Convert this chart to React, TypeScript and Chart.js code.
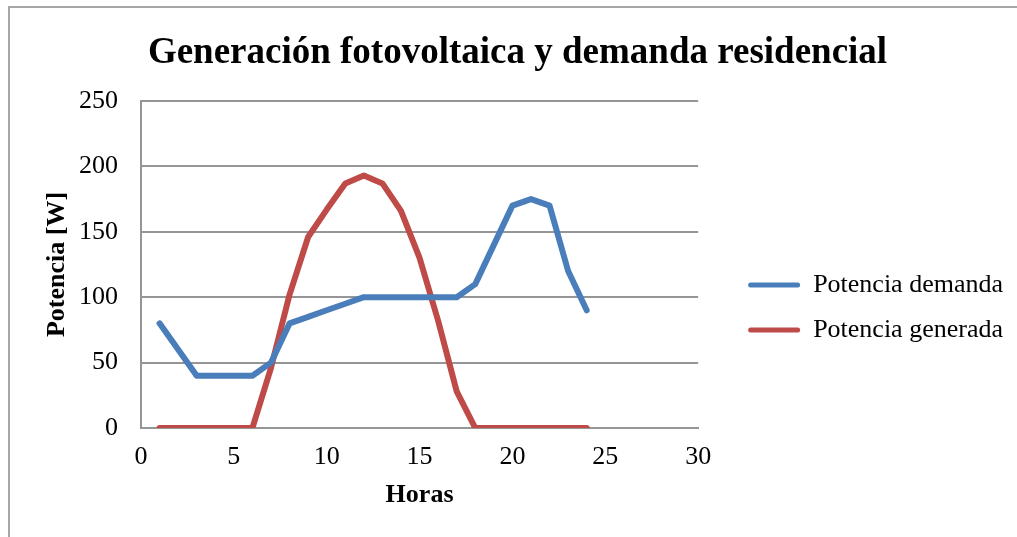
import React, { useEffect, useRef } from "react";
import { Chart, registerables } from "chart.js";

Chart.register(...registerables);

// ---- data ----
const hours = [1, 2, 3, 4, 5, 6, 7, 8, 9, 10, 11, 12, 13, 14, 15, 16, 17, 18, 19, 20, 21, 22, 23, 24];
const demand = [80, 60, 40, 40, 40, 40, 50, 80, 85, 90, 95, 100, 100, 100, 100, 100, 100, 110, 140, 170, 175, 170, 120, 90];
const generated = [0, 0, 0, 0, 0, 0, 46, 102, 146, 167, 187, 193, 187, 166, 130, 82, 28, 0, 0, 0, 0, 0, 0, 0];
const xTicks = [0, 5, 10, 15, 20, 25, 30];
const yTicks = [0, 50, 100, 150, 200, 250];
const seriesNames = ["Potencia demanda", "Potencia generada"];
const chartTitle = "Generación fotovoltaica y demanda residencial";
const xTitle = "Horas";
const yTitle = "Potencia [W]";

// ---- style ----
const W = 1035;
const H = 615;
const SERIF = "'Liberation Serif', 'Times New Roman', serif";
const BLUE = "#4a7ebb";
const RED = "#be4b48";
const GRID = "#969696";

export default function App() {
  const ref = useRef<HTMLCanvasElement | null>(null);

  useEffect(() => {
    if (!ref.current) return;
    const framePlugin = {
      id: "frame",
      beforeDraw(chart: any) {
        const c = chart.ctx;
        c.save();
        c.strokeStyle = "#a6a6a6";
        c.lineWidth = 2;
        c.strokeRect(9, 7, chart.width + 10, chart.height + 10);
        c.restore();
      },
    };

    const chart = new Chart(ref.current, {
      type: "line",
      data: {
        datasets: [
          {
            label: seriesNames[0],
            data: hours.map((h, i) => ({ x: h, y: demand[i] })),
            borderColor: BLUE,
            backgroundColor: BLUE,
            borderWidth: 6,
            pointRadius: 0,
            tension: 0,
            fill: false,
            borderJoinStyle: "round",
            borderCapStyle: "round",
          },
          {
            label: seriesNames[1],
            data: hours.map((h, i) => ({ x: h, y: generated[i] })),
            borderColor: RED,
            backgroundColor: RED,
            borderWidth: 6,
            pointRadius: 0,
            tension: 0,
            fill: false,
            borderJoinStyle: "round",
            borderCapStyle: "round",
          },
        ],
      },
      options: {
        responsive: false,
        animation: false,
        devicePixelRatio: 1,
        layout: { padding: { left: 22, right: 22, top: 0, bottom: 0 } },
        plugins: {
          tooltip: { enabled: false },
          title: {
            display: true,
            text: chartTitle,
            color: "#000",
            font: { family: SERIF, size: 37, weight: "bold" },
            padding: { top: 31, bottom: 25.6 },
          },
          legend: {
            position: "right",
            align: "center",
            maxWidth: 400,
            labels: {
              color: "#000",
              font: { family: SERIF, size: 26 },
              boxWidth: 52,
              boxHeight: 5,
              padding: 19,
              useBorderRadius: true,
              borderRadius: 2.5,
              generateLabels: (c: any) =>
                Chart.defaults.plugins.legend.labels
                  .generateLabels(c)
                  .map((l: any) => ({ ...l, lineWidth: 0 })),
            },
          },
        },
        scales: {
          x: {
            type: "linear",
            min: 0,
            max: 30,
            afterBuildTicks: (s: any) => {
              s.ticks = xTicks.map((v) => ({ value: v }));
            },
            afterFit: (s: any) => {
              s.height = 187;
            },
            grid: { display: true, drawOnChartArea: false, drawTicks: false },
            border: { display: true, color: GRID, width: 2 },
            ticks: {
              color: "#000",
              font: { family: SERIF, size: 26 },
              padding: 14,
              maxRotation: 0,
              autoSkip: false,
            },
            title: {
              display: true,
              text: xTitle,
              color: "#000",
              font: { family: SERIF, size: 26, weight: "bold" },
              padding: { top: 0, bottom: 104.4 },
            },
          },
          y: {
            type: "linear",
            min: 0,
            max: 250,
            afterBuildTicks: (s: any) => {
              s.ticks = yTicks.map((v) => ({ value: v }));
            },
            afterFit: (s: any) => {
              s.width = 119;
            },
            grid: { display: true, color: GRID, lineWidth: 2, drawTicks: false },
            border: { display: true, color: GRID, width: 2 },
            ticks: {
              color: "#000",
              font: { family: SERIF, size: 26 },
              padding: 23,
              autoSkip: false,
            },
            title: {
              display: true,
              text: yTitle,
              color: "#000",
              font: { family: SERIF, size: 26, weight: "bold" },
              padding: { top: 20, bottom: 0 },
            },
          },
          yR: {
            type: "linear",
            position: "right",
            display: true,
            grid: { display: false },
            border: { display: false },
            ticks: { display: false },
            afterFit: (s: any) => {
              s.width = 31;
            },
          },
        },
      },
      plugins: [framePlugin],
    } as any);

    return () => chart.destroy();
  }, []);

  return (
    <div
      style={{
        position: "absolute",
        left: 0,
        top: 0,
        width: 1017,
        height: 537,
        overflow: "hidden",
        background: "#fff",
      }}
    >
      <canvas ref={ref} width={W} height={H} style={{ display: "block" }} />
    </div>
  );
}
